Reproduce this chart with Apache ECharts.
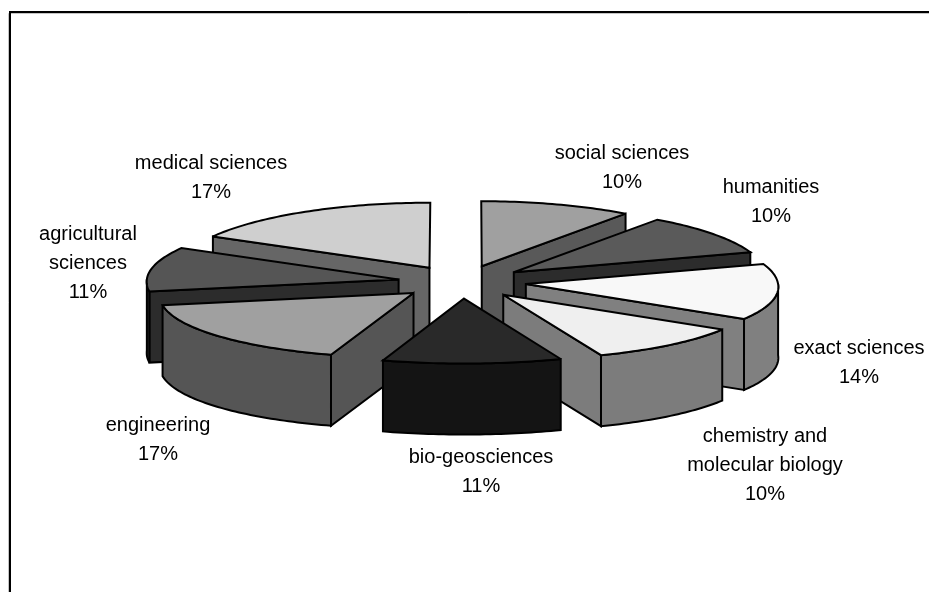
<!DOCTYPE html>
<html><head><meta charset="utf-8">
<style>html,body{margin:0;padding:0;background:#fff}#c{width:929px;height:592px}</style>
<script src="https://cdn.jsdelivr.net/npm/echarts@6/dist/echarts.min.js"></script>
</head><body><div id="c"></div>
<script>
// Data, clockwise from 12 o'clock
var categories = ['social sciences','humanities','exact sciences','chemistry and\nmolecular biology','bio-geosciences','engineering','agricultural\nsciences','medical sciences'];
var shares = [10,10,14,10,11,17,11,17];
var topColors = ['#a0a0a0','#5a5a5a','#f8f8f8','#efefef','#292929','#a0a0a0','#555555','#cfcfcf'];
var sideColors = ['#595959','#2c2c2c','#808080','#7c7c7c','#141414','#555555','#2c2c2c','#666666'];
var labelCenters = [[622,167.5],[771,201.5],[859,362.5],[765,465],[481,471.5],[158,439.5],[88,263],[211,177.5]];

// Projection of the tilted pie
var CX=462, CY=282, RX=252, RY=65, DEPTH=71, EXPLODE=0.255, PERSP_FRONT=0.035, PERSP_REAR=0.025;

var total = shares.reduce(function(a,b){return a+b;},0);
var starts = []; shares.reduce(function(acc,v,i){starts[i]=acc;return acc+v;},0);
var TAU = Math.PI*2;
function persp(x,y){
  var t=(y-CY)/RY, k=1+(t>0?PERSP_FRONT:PERSP_REAR)*t;
  return [CX+(x-CX)*k,y];
}
function project(a,r,ox,oy,z){
  var p=persp(ox+RX*r*Math.sin(a), oy-RY*r*Math.cos(a));
  return [p[0],p[1]+z];
}
function arc(a0,a1,ox,oy,z){
  var n=Math.max(2,Math.ceil((a1-a0)/0.02)),p=[];
  for(var i=0;i<=n;i++)p.push(project(a0+(a1-a0)*i/n,1,ox,oy,z));
  return p;
}
var LW=2;
function poly(points,fill){
  return {type:'polygon',shape:{points:points},style:{fill:fill,stroke:'#000',lineWidth:LW,lineJoin:'miter',miterLimit:3}};
}
function renderItem(params,api){
  var i=api.value(0), share=api.value(1), start=api.value(2);
  var a0=start/total*TAU, a1=(start+share)/total*TAU, m=(a0+a1)/2;
  var ox=CX+RX*EXPLODE*Math.sin(m), oy=CY-RY*EXPLODE*Math.cos(m);
  var ch=[], side=sideColors[i], apex=project(0,0,ox,oy,0), apexB=project(0,0,ox,oy,DEPTH);
  if(Math.sin(a0)<-1e-6){var s=project(a0,1,ox,oy,0),sb=project(a0,1,ox,oy,DEPTH);ch.push(poly([apex,s,sb,apexB],side));}
  if(Math.sin(a1)>1e-6){var e=project(a1,1,ox,oy,0),eb=project(a1,1,ox,oy,DEPTH);ch.push(poly([apex,e,eb,apexB],side));}
  var f0=Math.max(a0,Math.PI/2), f1=Math.min(a1,Math.PI*1.5);
  if(f1>f0){ch.push(poly(arc(f0,f1,ox,oy,0).concat(arc(f0,f1,ox,oy,DEPTH).reverse()),side));}
  ch.push(poly([apex].concat(arc(a0,a1,ox,oy,0)),topColors[i]));
  return {type:'group',children:ch};
}
// Paint rear slices first
var order = categories.map(function(c,i){return i;}).sort(function(p,q){
  function d(i){return -Math.cos((starts[i]+shares[i]/2)/total*TAU);}
  return d(p)-d(q);
});
var sliceData = order.map(function(i){return [i,shares[i],starts[i]];});

var graphics = [
  {type:'polyline',silent:true,shape:{points:[[8.5,592],[8.5,13.5],[929,13.5]]},style:{fill:null,stroke:'#c4c4c4',lineWidth:1}},
  {type:'polyline',silent:true,shape:{points:[[10,592],[10,12],[929,12]]},style:{fill:null,stroke:'#000',lineWidth:2}}
];
categories.forEach(function(c,i){
  graphics.push({type:'text',silent:true,x:labelCenters[i][0],y:labelCenters[i][1],
    style:{text:c+'\n'+shares[i]+'%',fill:'#000',font:'20px "Liberation Sans", Arial, sans-serif',align:'center',verticalAlign:'middle',lineHeight:29}});
});

var chart = echarts.init(document.getElementById('c'),null,{renderer:'canvas'});
chart.setOption({
  animation:false,
  backgroundColor:'#fff',
  graphic:graphics,
  series:[{type:'custom',coordinateSystem:'none',silent:true,renderItem:renderItem,data:sliceData}]
});
</script></body></html>
